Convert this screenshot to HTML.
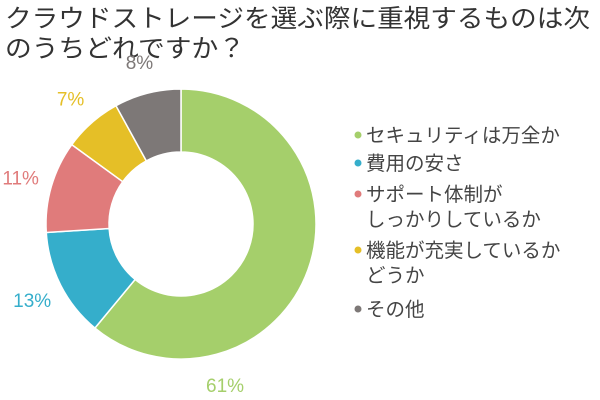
<!DOCTYPE html>
<html><head><meta charset="utf-8"><style>
body{margin:0;background:#fff;width:600px;height:400px;overflow:hidden;font-family:"Liberation Sans","Noto Sans CJK JP",sans-serif}
svg{display:block}
</style></head><body>
<svg width="600" height="400">
<text x="5" y="27" font-size="25" textLength="585" lengthAdjust="spacingAndGlyphs" fill="#333">クラウドストレージを選ぶ際に重視するものは次</text>
<text x="5" y="57" font-size="25" textLength="240" lengthAdjust="spacingAndGlyphs" fill="#333">のうちどれですか？</text>
<g id="slices"></g>
<g id="labels"></g>
<g id="legend"></g>
</svg>
<script>
const categories=["セキュリティは万全か","費用の安さ","サポート体制が|しっかりしているか","機能が充実しているか|どうか","その他"];
const values=[61,13,11,7,8];
const colors=["#a5cf6b","#35aecb","#e07b7b","#e5bf27","#7d7877"];
const NS="http://www.w3.org/2000/svg";
const cx=181,cy=224,R=135,r=72;
const total=values.reduce((a,b)=>a+b,0);
const sg=document.getElementById('slices'),lg=document.getElementById('labels'),gg=document.getElementById('legend');
function pt(a,rad){return [cx+rad*Math.sin(a),cy-rad*Math.cos(a)];}
let acc=0;
values.forEach((v,i)=>{
  const a0=acc/total*2*Math.PI;acc+=v;const a1=acc/total*2*Math.PI;
  const big=(a1-a0)>Math.PI?1:0;
  const p1=pt(a0,R),p2=pt(a1,R),p3=pt(a1,r),p4=pt(a0,r);
  const p=document.createElementNS(NS,'path');
  p.setAttribute('d',`M${p1}A${R},${R} 0 ${big} 1 ${p2}L${p3}A${r},${r} 0 ${big} 0 ${p4}Z`);
  p.setAttribute('fill',colors[i]);p.setAttribute('stroke','#fff');p.setAttribute('stroke-width','1.5');
  
  
  sg.appendChild(p);
  let am=(a0+a1)/2;
  if((a1-a0)>Math.PI) am=a1-(a1-a0)*0.25;
  const lp=pt(am,R+32);
  const t=document.createElementNS(NS,'text');
  t.setAttribute('x',lp[0]);t.setAttribute('y',lp[1]+7);
  t.setAttribute('text-anchor','middle');
  t.setAttribute('font-size','19');t.setAttribute('fill',colors[i]);
  t.textContent=v+'%';
  
  
  lg.appendChild(t);
});
const ly=[135,163,194,250,309];
categories.forEach((c,i)=>{
  const g=document.createElementNS(NS,'g');
  
  
  const m=document.createElementNS(NS,'circle');
  m.setAttribute('cx',358);m.setAttribute('cy',ly[i]);m.setAttribute('r',3.5);m.setAttribute('fill',colors[i]);
  g.appendChild(m);
  c.split('|').forEach((s,j)=>{
    const t=document.createElementNS(NS,'text');
    t.setAttribute('x',366);t.setAttribute('y',ly[i]+7+j*25);
    t.setAttribute('font-size','19.5');t.setAttribute('fill','#444');
    t.textContent=s;g.appendChild(t);
  });
  gg.appendChild(g);
});
</script>
</body></html>
